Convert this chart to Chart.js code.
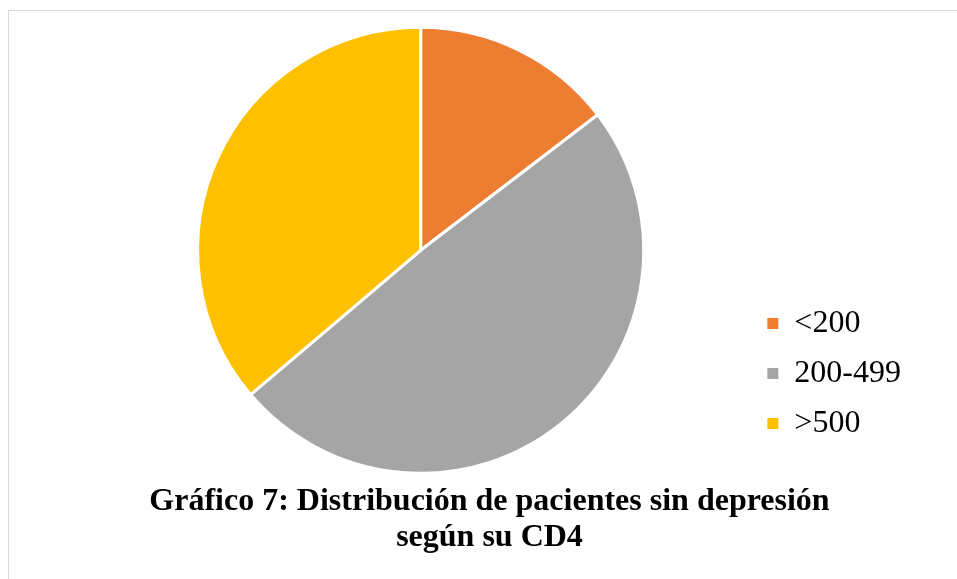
<!DOCTYPE html>
<html>
<head>
<meta charset="utf-8">
<script src="https://cdn.jsdelivr.net/npm/chart.js@4"></script>
<style>
  body { margin: 0; background: #fff; }
  #wrap { position: relative; width: 957px; height: 579px; overflow: hidden; }
  #frame { position: absolute; left: 8px; top: 10px; width: 1000px; height: 700px; border: 1px solid #d9d9d9; }
  #pieChart { position: absolute; left: 0; top: 0; }
</style>
</head>
<body>
<div id="wrap">
  <div id="frame"></div>
  <canvas id="pieChart" width="957" height="579"></canvas>
</div>
<script>
const categories = ['<200', '200-499', '>500'];
const shares = [14.6, 49.2, 36.2];
const sliceColors = ['#ED7D31', '#A5A5A5', '#FFC000'];
// trailing no-break spaces nudge the centred title a little to the left
const titleLines = ['Gráfico 7: Distribución de pacientes sin depresión\u00a0\u00a0\u00a0', 'según su CD4\u00a0\u00a0\u00a0'];

const serif = '"Liberation Serif", "Times New Roman", serif';
const defaultLabels = Chart.overrides.pie.plugins.legend.labels.generateLabels;

const config = {
  type: 'pie',
  data: {
    labels: categories,
    datasets: [{
      data: shares,
      backgroundColor: sliceColors,
      borderColor: '#ffffff',
      borderWidth: 3,
      radius: 223,
      clip: false
    }]
  },
  options: {
    responsive: false,
    animation: false,
    layout: {
      padding: { left: 92, right: 46, top: 43, bottom: 24 }
    },
    plugins: {
      tooltip: { enabled: false },
      legend: {
        position: 'right',
        align: 'end',
        fullSize: false,
        labels: {
          boxWidth: 11,
          boxHeight: 11,
          padding: 18,
          color: '#000',
          font: { family: serif, size: 32 },
          generateLabels: function (chart) {
            // plain filled squares, no white outline
            return defaultLabels(chart).map(function (item) {
              item.lineWidth = 0;
              return item;
            });
          }
        }
      },
      title: {
        display: true,
        position: 'bottom',
        text: titleLines,
        color: '#000',
        padding: { top: 27, bottom: 0 },
        font: { family: serif, size: 32, weight: 'bold', lineHeight: 1.1 }
      }
    }
  }
};

const pieChart = new Chart(document.getElementById('pieChart'), config);
</script>
</body>
</html>
